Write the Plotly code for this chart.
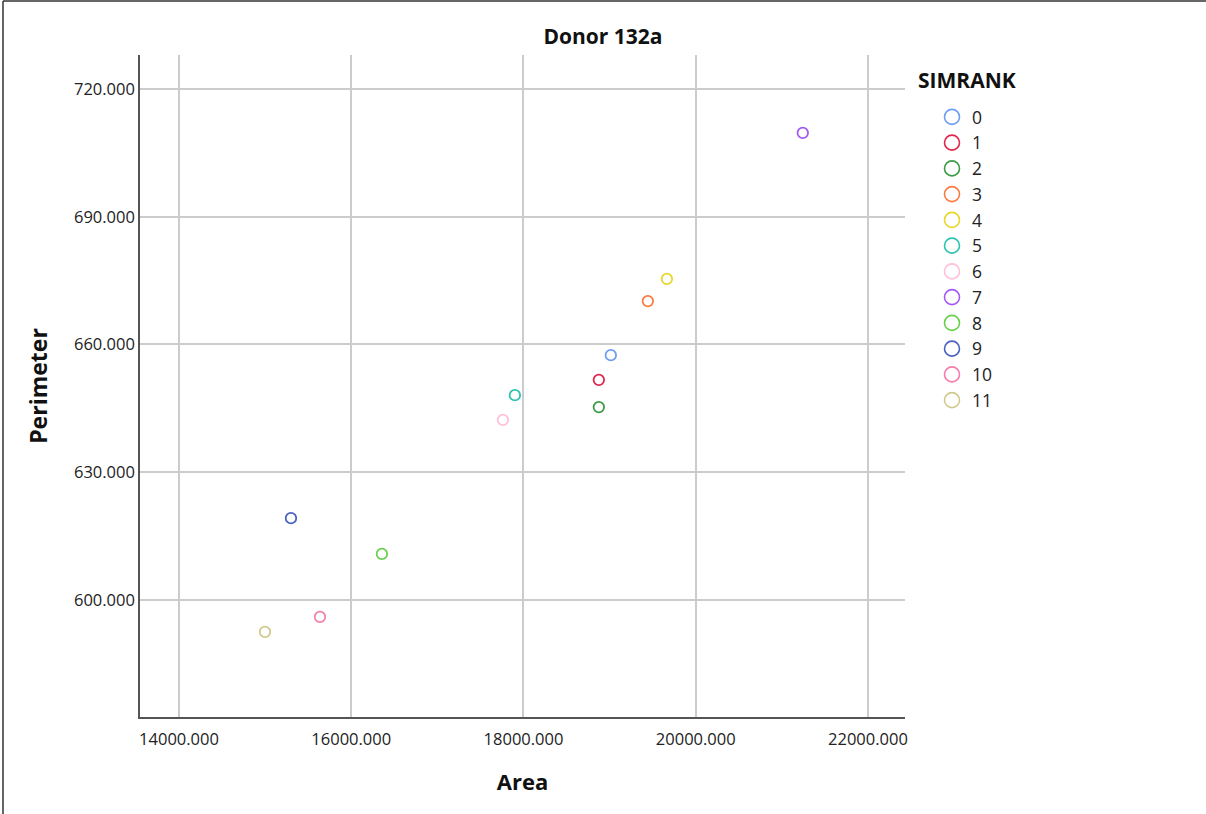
import plotly.graph_objects as go

simrank = ["0", "1", "2", "3", "4", "5", "6", "7", "8", "9", "10", "11"]
area = [19014, 18875, 18875, 19444, 19665, 17900, 17761, 21243, 16356, 15300, 15637, 14998]
perimeter = [657.5, 651.7, 645.3, 670.2, 675.4, 648.1, 642.3, 709.7, 610.8, 619.2, 596.0, 592.5]
colors = ["#6f9ff0", "#e0284f", "#3d9b45", "#fb7b41", "#e8d82a", "#2ec4b0",
          "#ffc0db", "#a55af5", "#6bcf4f", "#4a62c0", "#f47eac", "#d2c98e"]

fig = go.Figure()
for i, r in enumerate(simrank):
    fig.add_trace(go.Scatter(
        x=[area[i]], y=[perimeter[i]], mode="markers", name=r,
        legendgroup=r, showlegend=False,
        marker=dict(symbol="circle-open", size=10.5, color=colors[i],
                    line=dict(width=1.8, color=colors[i])),
    ))
for i, r in enumerate(simrank):
    fig.add_trace(go.Scatter(
        x=[None], y=[None], mode="markers", name=r,
        legendgroup=r, showlegend=True,
        marker=dict(symbol="circle-open", size=15, color=colors[i],
                    line=dict(width=1.6, color=colors[i])),
    ))

L, R, T, B = 140, 301, 55, 97
W, H = 1206, 814
pw, ph = W - L - R, H - T - B

def px(xp):
    return (xp - L) / pw

def py(yp):
    return 1 - (yp - T) / ph

fig.update_layout(
    width=W, height=H,
    margin=dict(l=L, r=R, t=T, b=B, pad=0),
    paper_bgcolor="white", plot_bgcolor="white",
    title=dict(text="<b>Donor 132a</b>", x=0.5, xref="container", xanchor="center",
               y=1 - 37 / H, yanchor="middle",
               font=dict(family="Open Sans", size=21, color="#111")),
    font=dict(family="Open Sans", color="#222"),
    showlegend=True,
    legend=dict(
        x=px(932), y=py(99), xanchor="left", yanchor="top",
        font=dict(family="Open Sans", size=17.5, color="#222"),
        tracegroupgap=0,
        itemwidth=30,
        bgcolor="rgba(0,0,0,0)",
    ),
    annotations=[
        dict(text="<b>SIMRANK</b>", xref="paper", yref="paper", x=px(916), y=py(80),
             xanchor="left", yanchor="middle", showarrow=False,
             font=dict(family="Open Sans", size=21, color="#111")),
    ],
    xaxis=dict(
        range=[13547, 22430], dtick=2000, tick0=14000, tickformat=".3f",
        showgrid=True, gridcolor="#cccccc", gridwidth=1.5,
        showline=True, linecolor="#555", linewidth=1.5,
        zeroline=False, ticks="outside", ticklen=6, tickcolor="rgba(0,0,0,0)",
        tickfont=dict(family="Open Sans", size=16.5, color="#222"),
        title=dict(text="<b>Area</b>", font=dict(size=22, color="#111"), standoff=26),
    ),
    yaxis=dict(
        range=[572.5, 728], dtick=30, tick0=600, tickformat=".3f",
        showgrid=True, gridcolor="#cccccc", gridwidth=1.5,
        showline=True, linecolor="#555", linewidth=1.5,
        zeroline=False, ticks="", ticklen=0,
        tickfont=dict(family="Open Sans", size=16.5, color="#222"),
        title=dict(text="<b>Perimeter</b>", font=dict(size=23, color="#111"), standoff=20),
    ),
    shapes=[
        dict(type="line", xref="paper", yref="paper", x0=px(3), x1=px(3),
             y0=py(H + 5), y1=py(1), line=dict(color="#333", width=1.5)),
        dict(type="line", xref="paper", yref="paper", x0=px(3), x1=px(W + 5),
             y0=py(1), y1=py(1), line=dict(color="#333", width=1.5)),
    ],
)

fig.write_html("out.html")
